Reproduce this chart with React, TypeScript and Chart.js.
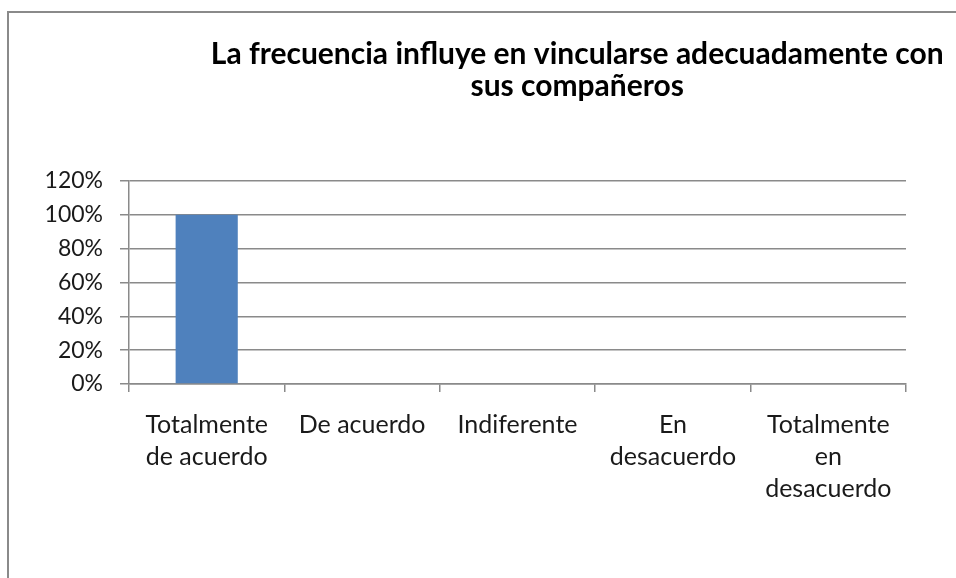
import React, { useEffect, useRef } from "react";
import { Chart, registerables } from "chart.js";

Chart.register(...registerables);

const TITLE_LINES = ["La frecuencia influye en vincularse adecuadamente con", "sus compañeros"];
const CATEGORIES: string[][] = [
  ["Totalmente", "de acuerdo"],
  ["De acuerdo"],
  ["Indiferente"],
  ["En", "desacuerdo"],
  ["Totalmente", "en", "desacuerdo"],
];
const VALUES = [100, 0, 0, 0, 0];
const Y_MAX = 120;
const Y_STEP = 20;

const FONT = "Lato";
const GRID = "#8a8a8a";

const titlePlugin = {
  id: "offsetTitle",
  afterDraw(chart: any) {
    const ctx = chart.ctx;
    ctx.save();
    ctx.font = `bold 30px ${FONT}`;
    ctx.fillStyle = "#000";
    ctx.textAlign = "center";
    ctx.textBaseline = "alphabetic";
    const cx = chart.width * 0.6;
    TITLE_LINES.forEach((line, i) => ctx.fillText(line, cx, 51 + i * 32));
    ctx.restore();
  },
};

export default function App() {
  const ref = useRef<HTMLCanvasElement>(null);
  useEffect(() => {
    if (!ref.current) return;
    const chart = new Chart(ref.current, {
      type: "bar",
      data: {
        labels: CATEGORIES,
        datasets: [
          {
            data: VALUES,
            backgroundColor: "#4f81bd",
            borderWidth: 0,
            barPercentage: 0.4,
            categoryPercentage: 1,
          },
        ],
      },
      options: {
        animation: false,
        responsive: false,
        layout: { padding: { top: 168, right: 50, left: 0, bottom: 0 } },
        plugins: {
          legend: { display: false },
          title: { display: false },
          tooltip: { enabled: false },
        },
        scales: {
          x: {
            offset: true,
            grid: {
              offset: true,
              drawOnChartArea: false,
              drawTicks: true,
              tickLength: 8,
              color: GRID,
              lineWidth: 1.5,
            },
            border: { color: GRID, width: 1.5 },
            ticks: {
              color: "#1a1a1a",
              font: { family: FONT, size: 25, lineHeight: 1.28 },
              padding: 17,
              maxRotation: 0,
              autoSkip: false,
            },
            afterFit(scale: any) {
              scale.height = 194;
            },
          },
          y: {
            min: 0,
            max: Y_MAX,
            grid: {
              color: GRID,
              lineWidth: 1.5,
              drawTicks: true,
              tickLength: 9,
            },
            border: { color: GRID, width: 1.5 },
            ticks: {
              stepSize: Y_STEP,
              color: "#1a1a1a",
              font: { family: FONT, size: 23 },
              padding: 17,
              callback: (v: any) => `${v}%`,
            },
            afterFit(scale: any) {
              scale.width = 120;
            },
          },
        },
      },
      plugins: [titlePlugin],
    });
    return () => chart.destroy();
  }, []);

  return (
    <div
      style={{
        position: "fixed",
        left: 7,
        top: 11,
        width: 960,
        height: 580,
        borderTop: "2px solid #8a8a8a",
        borderLeft: "2px solid #8a8a8a",
        background: "#fff",
        overflow: "hidden",
      }}
    >
      <canvas ref={ref} width={947} height={565} style={{ display: "block" }} />
    </div>
  );
}
